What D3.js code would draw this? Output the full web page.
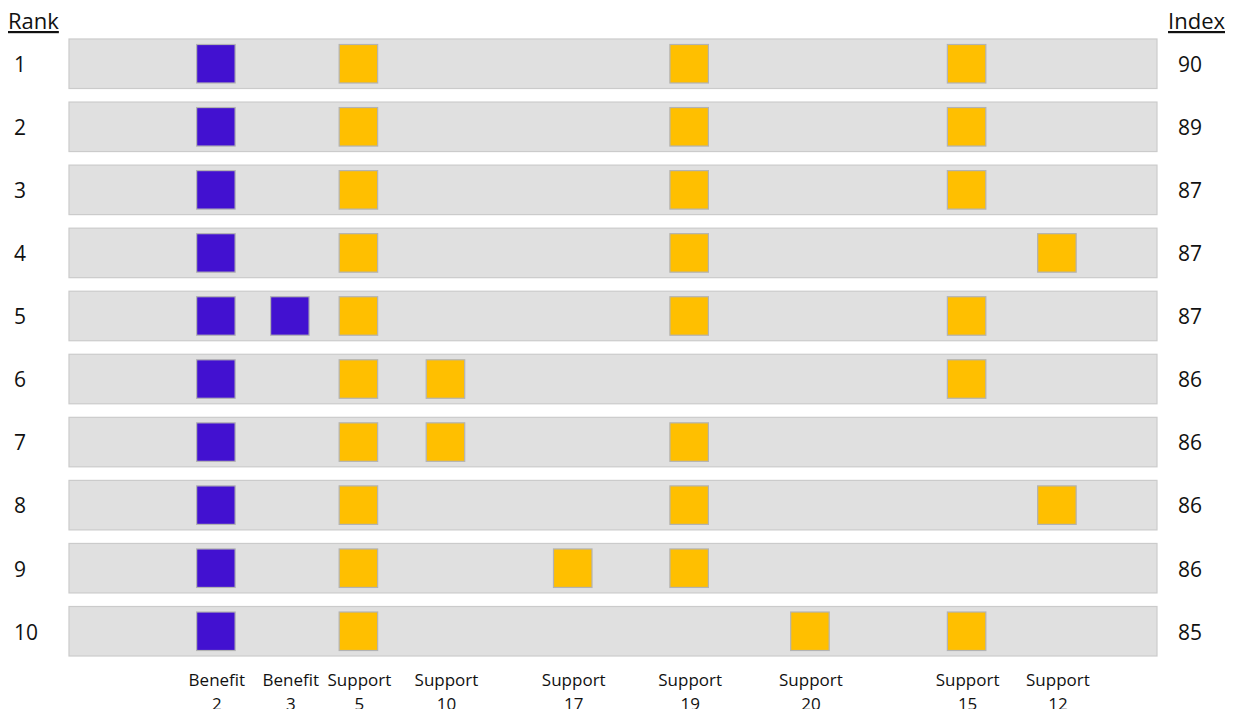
<!DOCTYPE html>
<html lang="en">
<head>
  <meta charset="UTF-8">
  <title>index</title>
  <style type="text/css">
    body {
      margin: 0;
      background: #fff;
    }
    svg text {
      font-family: "Open Sans", "Noto Sans", sans-serif;
      fill: #111;
    }
  </style>
</head>
<body>
  <svg id="chart" width="1234" height="709"></svg>

<script src="https://cdn.jsdelivr.net/npm/d3@7/dist/d3.min.js"></script>
<script>
  // columns (label, kind, position along the band in %)
  const columns = ['Benefit 2', 'Benefit 3', 'Support 5', 'Support 10', 'Support 17', 'Support 19', 'Support 20', 'Support 15', 'Support 12']
  const columnKind = ['benefit', 'benefit', 'support', 'support', 'support', 'support', 'support', 'support', 'support']
  const columnPos = [13.5, 20.3, 26.6, 34.6, 46.3, 57.0, 68.1, 82.5, 90.8]

  const ranks = [1, 2, 3, 4, 5, 6, 7, 8, 9, 10]
  const indexValues = [90, 89, 87, 87, 87, 86, 86, 86, 86, 85]
  const rowItems = [
    ['Benefit 2', 'Support 5', 'Support 19', 'Support 15'],
    ['Benefit 2', 'Support 5', 'Support 19', 'Support 15'],
    ['Benefit 2', 'Support 5', 'Support 19', 'Support 15'],
    ['Benefit 2', 'Support 5', 'Support 19', 'Support 12'],
    ['Benefit 2', 'Benefit 3', 'Support 5', 'Support 19', 'Support 15'],
    ['Benefit 2', 'Support 5', 'Support 10', 'Support 15'],
    ['Benefit 2', 'Support 5', 'Support 10', 'Support 19'],
    ['Benefit 2', 'Support 5', 'Support 19', 'Support 12'],
    ['Benefit 2', 'Support 5', 'Support 17', 'Support 19'],
    ['Benefit 2', 'Support 5', 'Support 20', 'Support 15']
  ]

  const colors = { benefit: '#4211d0', support: '#ffbf00' }

  const svg = d3.select('#chart')
  const bandLeft = 69, bandRight = 1157, bandTop = 39, bandBottom = 656

  const x = d3.scaleLinear().domain([0, 100]).range([bandLeft, bandRight])
  const y = d3.scaleBand().domain(ranks).range([bandTop, bandBottom]).paddingInner(0.215).paddingOuter(0)
  const sq = y.bandwidth() - 11

  const posOf = {}
  const kindOf = {}
  columns.forEach((c, i) => { posOf[c] = columnPos[i]; kindOf[c] = columnKind[i] })

  // headers
  svg.append('text').attr('x', 8).attr('y', 29)
    .attr('font-size', 22).attr('text-decoration', 'underline').text('Rank')
  svg.append('text').attr('x', 1225).attr('y', 29).attr('text-anchor', 'end')
    .attr('font-size', 22).attr('text-decoration', 'underline').text('Index')

  const rows = svg.selectAll('g.row').data(ranks).enter().append('g')
    .attr('class', 'row')
    .attr('transform', d => 'translate(0,' + y(d) + ')')

  rows.append('rect')
    .attr('x', bandLeft).attr('width', bandRight - bandLeft)
    .attr('height', y.bandwidth())
    .attr('fill', '#e0e0e0').attr('stroke', '#cbcbcb').attr('stroke-width', 1.2)

  rows.append('text')
    .attr('x', 14).attr('y', y.bandwidth() / 2 + 1).attr('dy', '0.35em')
    .attr('font-size', 21).text(d => d)

  rows.append('text')
    .attr('x', 1190).attr('y', y.bandwidth() / 2 + 1).attr('dy', '0.35em')
    .attr('text-anchor', 'middle').attr('font-size', 21)
    .text((d, i) => indexValues[i])

  rows.selectAll('rect.item').data((d, i) => rowItems[i]).enter().append('rect')
    .attr('class', 'item')
    .attr('x', d => x(posOf[d]) - sq / 2)
    .attr('y', (y.bandwidth() - sq) / 2)
    .attr('width', sq).attr('height', sq)
    .attr('fill', d => colors[kindOf[d]])
    .attr('stroke', '#b3b3b3').attr('stroke-width', 1.2)

  // column labels at the bottom, two lines each (second line runs off the page, as in the original)
  const labels = svg.selectAll('text.col').data(columns).enter().append('text')
    .attr('class', 'col')
    .attr('text-anchor', 'middle')
    .attr('font-size', 17)
    .attr('transform', d => 'translate(' + (x(posOf[d]) + 1) + ',686)')
  labels.append('tspan').attr('x', 0).attr('y', 0).text(d => d.split(' ')[0])
  labels.append('tspan').attr('x', 0).attr('y', 24).text(d => d.split(' ')[1])
</script>
</body>
</html>
